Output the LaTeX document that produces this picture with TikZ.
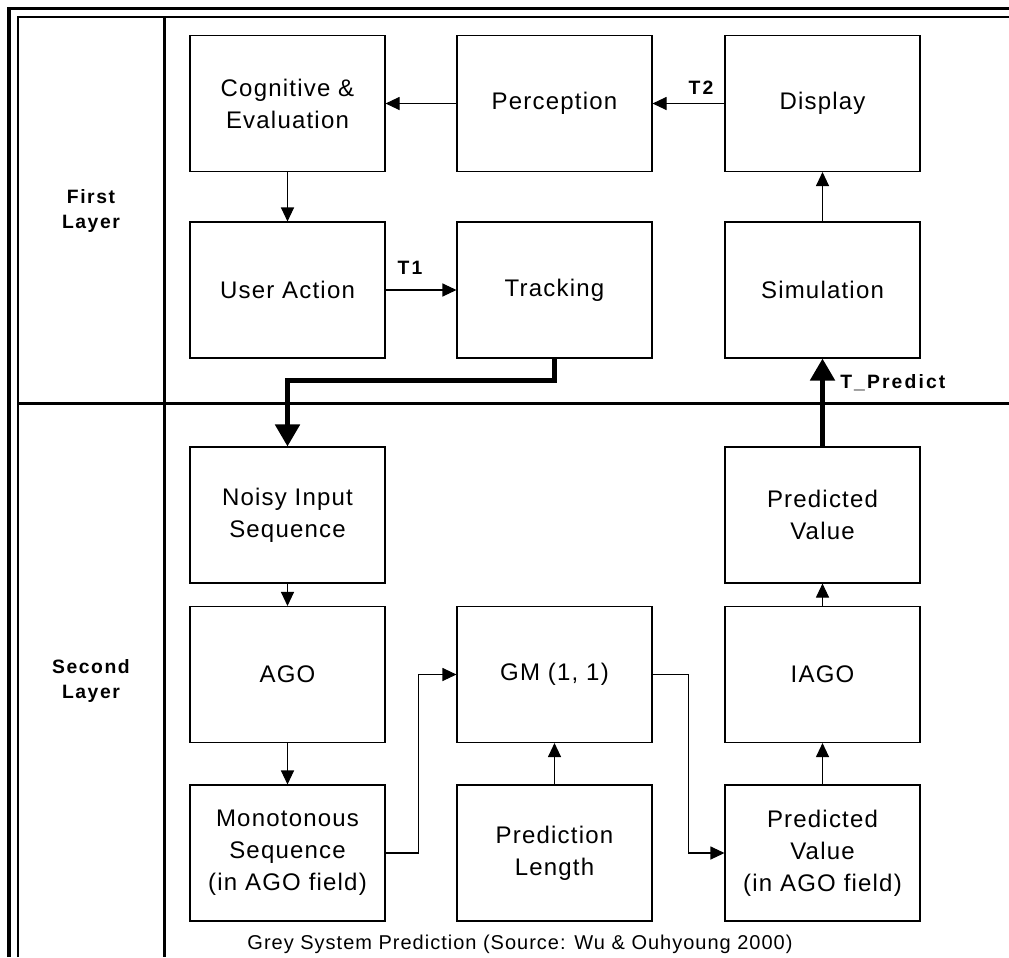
\documentclass[tikz,border=0pt]{standalone}
\usepackage{fontspec}
\setmainfont{Liberation Sans}
\newfontfamily\boxfont[LetterSpace=5]{Liberation Sans}
\newfontfamily\tagfont[LetterSpace=11]{Liberation Sans}
\newfontfamily\layerfont[LetterSpace=8]{Liberation Sans}
\usetikzlibrary{arrows.meta}

\begin{document}
\begin{tikzpicture}[x=0.75pt,y=-0.75pt,
  stage/.style={draw=black,line width=0.8pt,minimum width=146.25pt,minimum height=102pt,
    inner sep=0pt,align=center,font=\boxfont\fontsize{18}{24}\selectfont},
  flow/.style={line width=0.8pt,-{Triangle[length=10.5pt,width=9.75pt]}},
  bigflow/.style={line width=3.75pt,line join=miter,-{Triangle[length=16.5pt,width=18pt]}},
  tag/.style={font=\tagfont\bfseries\fontsize{14.5}{17}\selectfont,inner sep=0pt},
  layer/.style={font=\layerfont\bfseries\fontsize{14.5}{19}\selectfont,align=center,inner sep=0pt},
  caption/.style={font=\boxfont\fontsize{15}{18}\selectfont,inner sep=0pt},
  rule/.style={line cap=butt,line join=miter}]

\useasboundingbox (0,0) rectangle (1009,957);

% double frame, the layer column and the layer divider
\draw[rule,line width=2.4pt] (9,957) -- (9,8.5) -- (1009,8.5);
\draw[rule,line width=1.9pt] (18,957) -- (18,17) -- (1009,17);
\draw[rule,line width=2.2pt] (164.5,17) -- (164.5,957);
\draw[rule,line width=2.4pt] (18,403.5) -- (1009,403.5);

\node[layer] (first) at (91,211) {First\\Layer};
\node[layer] (second) at (91,681) {Second\\Layer};

% first layer
\node[stage] (cog)   at (287.5,103.5) {Cognitive \&\\Evaluation};
\node[stage] (perc)  at (554.5,103.5) {Perception};
\node[stage] (disp)  at (822.5,103.5) {Display};
\node[stage] (user)  at (287.5,290) {User Action};
\node[stage] (track) at (554.5,290) {Tracking};
\node[stage] (sim)   at (822.5,290) {Simulation};

% second layer
\node[stage] (noisy) at (287.5,515) {Noisy Input\\Sequence};
\node[stage] (pval)  at (822.5,515) {Predicted\\Value};
\node[stage] (ago)   at (287.5,674.5) {AGO};
\node[stage] (gm)    at (554.5,674.5) {GM (1, 1)};
\node[stage] (iago)  at (822.5,674.5) {IAGO};
\node[stage] (mono)  at (287.5,853) {Monotonous\\Sequence\\(in AGO field)};
\node[stage] (plen)  at (554.5,853) {Prediction\\Length};
\node[stage] (pago)  at (822.5,853) {Predicted\\Value\\(in AGO field)};

% connectors
\draw[flow] (perc) -- (cog);
\draw[flow] (disp) -- (perc);
\node[tag] (t2) at (701,88) {T2};
\draw[flow] (cog) -- (user);
\draw[flow] (user) -- (track);
\node[tag] (t1) at (410,268) {T1};
\draw[flow] (sim) -- (disp);

\draw[bigflow] (track.south) -- ++(0,22) -| (noisy.north);
\draw[bigflow] (pval) -- (sim);
\node[tag,anchor=west] (tp) at (840,383) {T\_Predict};

\draw[flow] (noisy) -- (ago);
\draw[flow] (ago) -- (mono);
\draw[flow] (mono.east) -- ++(33,0) |- (gm.west);
\draw[flow] (plen) -- (gm);
\draw[flow] (gm.east) -- ++(36,0) |- (pago.west);
\draw[flow] (pago) -- (iago);
\draw[flow] (iago) -- (pval);

\node[caption] (cap) at (520,944) {Grey System Prediction (Source: Wu \& Ouhyoung 2000)};
\end{tikzpicture}
\end{document}
